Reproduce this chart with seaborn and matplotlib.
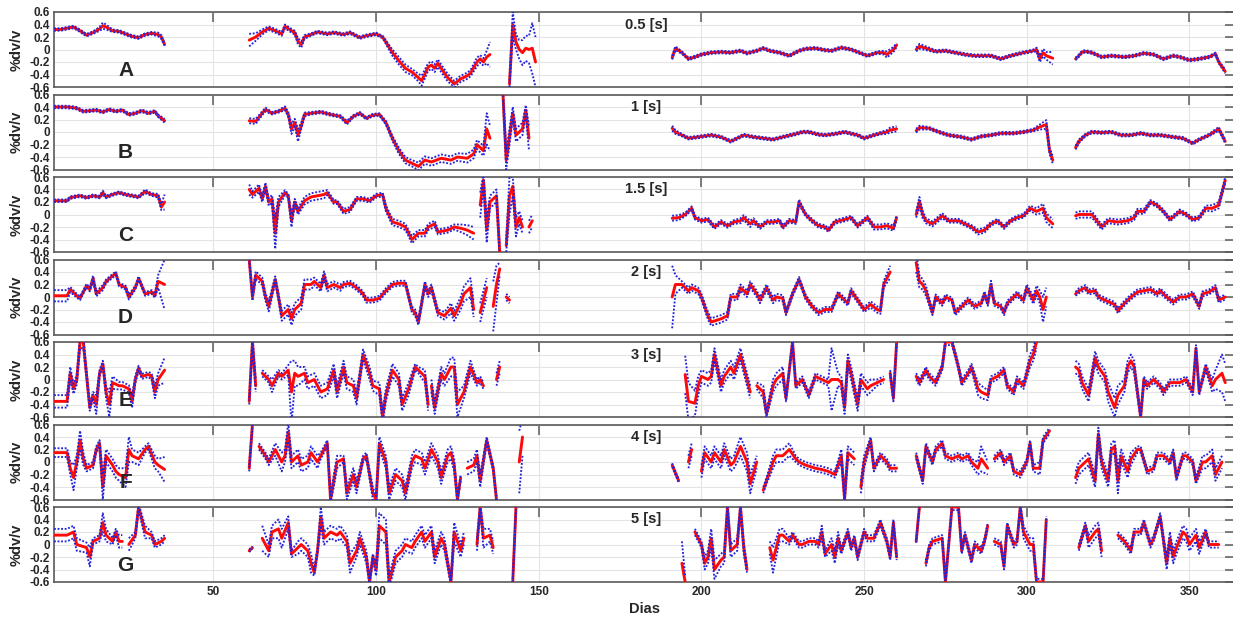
import numpy as np
import pandas as pd
import matplotlib
matplotlib.use("Agg")
import matplotlib.pyplot as plt
import seaborn as sns

# Daily %dv/v series per period band: each panel is a list of continuous
# segments, each row is (day, mean dv/v, half-width of the uncertainty band).
DV_05 = [
    [(1,.32,.02),(3,.32,.02),(5,.34,.02),(7,.36,.02),(9,.30,.02),(11,.23,.02),(13,.27,.02),(15,.33,.03),(16,.38,.05),(17,.36,.04),(19,.30,.02),(21,.29,.02),(23,.25,.02),(25,.21,.02),(27,.19,.02),(29,.24,.02),(31,.26,.02),(33,.24,.03),(34,.20,.03),(35,.08,.02)],
    [(61,.15,.1),(63,.20,.06),(65,.28,.04),(67,.34,.03),(69,.30,.03),(71,.25,.03),(72,.37,.03),(74,.30,.03),(75,.27,.03),(76,.13,.05),(77,.08,.05),(78,.20,.03),(80,.24,.02),(82,.28,.02),(85,.25,.02),(87,.27,.02),(90,.24,.02),(92,.27,.02),(95,.19,.02),(97,.22,.02),(100,.25,.02),(102,.20,.02),(103,.12,.03),(105,-.05,.05),(107,-.18,.06),(109,-.3,.06),(111,-.36,.05),(113,-.45,.06),(114,-.5,.08),(116,-.28,.06),(117,-.25,.06),(118,-.3,.06),(119,-.22,.06),(120,-.3,.06),(122,-.45,.06),(124,-.55,.05),(126,-.47,.05),(128,-.42,.05),(129,-.38,.05),(131,-.2,.07),(132,-.15,.06),(133,-.2,.06),(134,-.12,.1),(135,-.08,.2)],
    [(141,-.55,.05),(142,.4,.2),(143,.12,.12),(144,0,.15),(145,-.05,.2),(146,.02,.2),(147,0,.22),(148,.02,.4),(149,-.2,.4)],
    [(191,-.13,.03),(192,.02,.03),(194,-.05,.02),(196,-.15,.02),(198,-.12,.02),(200,-.08,.02),(203,-.05,.02),(206,-.04,.02),(209,-.05,.02),(212,-.02,.02),(214,-.06,.02),(217,-.02,.02),(219,.02,.02),(221,-.02,.02),(224,-.05,.02),(227,-.1,.02),(230,-.02,.02),(232,.01,.02),(235,.02,.02),(238,-.01,.02),(240,-.02,.02),(243,.03,.02),(246,0,.02),(249,-.06,.02),(251,-.1,.02),(254,-.05,.02),(256,-.05,.03),(257,-.08,.05),(259,0,.04),(260,.07,.03)],
    [(266,0,.03),(267,.05,.04),(269,.02,.03),(272,-.03,.02),(275,-.02,.02),(278,-.05,.02),(281,-.08,.02),(284,-.1,.02),(287,-.1,.02),(289,-.1,.02),(292,-.15,.02),(295,-.1,.02),(299,-.05,.02),(302,-.02,.02),(303,0,.03),(304,-.15,.05),(305,-.05,.06),(306,-.1,.06),(307,-.12,.08),(308,-.14,.1)],
    [(315,-.15,.02),(316,-.1,.02),(317,-.04,.02),(318,-.03,.02),(320,-.05,.02),(323,-.12,.02),(326,-.1,.02),(330,-.12,.02),(333,-.1,.02),(336,-.06,.02),(339,-.08,.02),(342,-.15,.02),(345,-.1,.02),(347,-.12,.02),(350,-.17,.02),(353,-.15,.02),(356,-.12,.02),(358,-.07,.02),(359,-.2,.02),(361,-.35,.03)],
]

DV_1 = [
    [(1,.40,.02),(3,.40,.02),(5,.40,.02),(7,.39,.02),(8,.38,.02),(10,.33,.02),(12,.34,.02),(14,.35,.02),(16,.32,.02),(18,.36,.02),(20,.33,.02),(22,.35,.02),(24,.28,.02),(26,.30,.02),(28,.34,.02),(30,.30,.02),(32,.33,.02),(33,.26,.02),(35,.18,.03)],
    [(61,.18,.04),(63,.17,.04),(65,.30,.03),(66,.36,.03),(68,.30,.02),(70,.33,.02),(72,.38,.03),(73,.28,.04),(74,.05,.08),(75,.15,.06),(76,-.05,.1),(77,.1,.05),(78,.28,.03),(80,.30,.02),(83,.32,.02),(86,.28,.02),(89,.25,.02),(91,.15,.03),(93,.25,.02),(95,.30,.02),(97,.22,.02),(99,.27,.02),(101,.28,.02),(103,.15,.03),(105,-.1,.04),(107,-.3,.05),(109,-.45,.05),(111,-.5,.05),(113,-.55,.06),(115,-.45,.06),(117,-.48,.06),(120,-.42,.06),(123,-.45,.06),(125,-.4,.06),(128,-.42,.07),(130,-.35,.07),(131,-.2,.07),(133,-.3,.08),(134,.05,.25),(135,-.1,.2)],
    [(139,.6,.1),(140,-.45,.15),(142,.3,.1),(143,-.05,.1),(145,.05,.1),(146,.35,.08),(147,-.1,.2)],
    [(191,.06,.04),(192,0,.03),(194,-.05,.02),(196,-.1,.02),(199,-.08,.02),(203,-.05,.02),(206,-.08,.02),(209,-.15,.02),(211,-.1,.02),(213,-.05,.02),(216,-.08,.02),(219,-.1,.02),(222,-.12,.02),(225,-.08,.02),(229,-.03,.02),(231,0,.02),(233,0,.02),(236,-.04,.02),(238,-.05,.02),(241,-.03,.02),(244,0,.02),(248,-.05,.02),(250,-.1,.02),(253,-.05,.02),(255,-.02,.02),(257,0,.03),(258,.03,.04),(260,.05,.04)],
    [(266,.02,.03),(267,.07,.03),(270,.06,.02),(273,0,.02),(276,-.05,.02),(280,-.08,.02),(283,-.12,.02),(286,-.07,.02),(289,-.05,.02),(292,-.02,.02),(296,-.02,.02),(299,0,.02),(302,.03,.02),(304,.08,.04),(306,.12,.07),(307,-.3,.05),(308,-.45,.06)],
    [(315,-.25,.03),(316,-.15,.03),(318,-.05,.02),(320,0,.02),(323,-.01,.02),(326,0,.02),(329,-.05,.02),(332,-.05,.02),(335,-.02,.02),(338,-.05,.02),(341,-.05,.02),(345,-.08,.02),(348,-.1,.02),(351,-.18,.02),(353,-.12,.02),(356,-.05,.02),(359,.05,.03),(361,-.15,.03)],
]

DV_15 = [
    [(1,.22,.02),(3,.22,.02),(5,.22,.02),(6,.27,.02),(9,.30,.02),(11,.27,.02),(13,.30,.02),(15,.28,.02),(16,.35,.03),(17,.28,.02),(19,.32,.02),(21,.35,.02),(23,.32,.02),(25,.30,.02),(27,.28,.02),(29,.37,.03),(31,.32,.02),(33,.30,.03),(34,.12,.05),(35,.2,.12)],
    [(61,.4,.08),(62,.32,.05),(64,.42,.06),(65,.25,.05),(66,.45,.06),(67,.2,.06),(68,.25,.06),(69,-.3,.25),(70,.2,.08),(72,.35,.04),(73,.3,.03),(74,-.1,.1),(75,.2,.05),(76,.05,.05),(78,.22,.06),(80,.28,.06),(82,.3,.06),(84,.32,.06),(85,.35,.04),(87,.2,.03),(88,.2,.03),(90,.05,.04),(92,.08,.04),(94,.25,.03),(96,.25,.03),(98,.22,.03),(100,.3,.03),(102,.32,.03),(103,.1,.05),(105,-.12,.05),(107,-.15,.05),(109,-.2,.05),(110,-.3,.05),(111,-.4,.06),(113,-.3,.05),(115,-.3,.05),(116,-.2,.05),(118,-.15,.05),(119,-.28,.04),(122,-.25,.04),(124,-.2,.04),(126,-.22,.06),(128,-.25,.08),(130,-.3,.1)],
    [(132,.15,.2),(133,.55,.1),(134,-.25,.2),(135,.2,.1),(137,.3,.1),(138,-.6,.1)],
    [(140,-.5,.1),(141,.3,.3),(142,.45,.15),(143,-.2,.15),(144,-.05,.1),(145,-.2,.1)],
    [(147,-.2,.1),(148,-.1,.1)],
    [(191,-.06,.04),(193,-.05,.04),(195,0,.03),(197,.1,.03),(198,-.05,.03),(200,-.1,.03),(202,-.08,.03),(204,-.2,.03),(206,-.12,.03),(208,-.18,.03),(210,-.12,.03),(212,-.1,.04),(213,-.05,.04),(215,-.15,.05),(216,-.1,.04),(218,-.2,.03),(220,-.12,.03),(222,-.12,.03),(224,-.1,.03),(225,-.2,.03),(227,-.1,.03),(229,-.12,.03),(230,.2,.04),(232,0,.03),(234,-.1,.03),(236,-.18,.03),(238,-.2,.03),(239,-.25,.03),(241,-.12,.03),(244,-.08,.03),(246,-.05,.03),(248,-.18,.03),(251,-.05,.03),(253,-.2,.04),(255,-.2,.04),(257,-.18,.04),(259,-.22,.04),(260,-.05,.04)],
    [(266,0,.05),(267,.2,.08),(268,0,.06),(269,-.1,.04),(271,-.15,.04),(274,-.02,.04),(276,-.1,.03),(279,-.1,.03),(281,-.15,.03),(283,-.2,.03),(285,-.28,.04),(287,-.25,.04),(289,-.15,.03),(291,-.1,.03),(293,-.2,.03),(295,-.1,.03),(297,-.05,.03),(299,-.02,.03),(301,.1,.04),(303,.05,.05),(305,.1,.07),(306,-.05,.07),(308,-.15,.07)],
    [(315,-.02,.05),(316,0,.05),(318,0,.05),(320,0,.05),(323,-.2,.04),(325,-.1,.04),(328,-.12,.04),(331,-.1,.04),(333,-.05,.04),(334,.05,.04),(336,.05,.04),(338,.2,.03),(340,.15,.03),(342,.05,.03),(344,-.08,.03),(347,.05,.03),(349,0,.03),(351,-.08,.03),(353,-.05,.03),(355,.1,.04),(357,.1,.05),(359,.15,.05),(361,.55,.05)],
]

DV_2 = [
    [(1,.02,.09),(3,.02,.09),(5,.02,.09),(6,.12,.04),(8,.02,.03),(9,-.02,.03),(11,.18,.03),(12,.12,.03),(13,.3,.04),(14,.05,.04),(16,.15,.04),(17,.25,.03),(20,.38,.03),(21,.2,.03),(23,.15,.03),(24,0,.04),(26,.15,.03),(27,.3,.03),(29,.05,.03),(31,.08,.03),(32,.02,.03),(33,.25,.1),(35,.2,.4)],
    [(61,.6,.05),(62,0,.06),(63,.35,.06),(65,.25,.06),(66,0,.06),(67,-.15,.08),(69,.28,.05),(70,0,.06),(71,-.3,.08),(73,-.2,.08),(74,-.35,.1),(75,-.2,.1),(77,-.1,.1),(78,.2,.08),(80,.2,.08),(81,.25,.06),(83,.15,.06),(84,.35,.06),(85,.15,.06),(87,.2,.05),(89,.15,.05),(90,.2,.04),(92,.22,.04),(94,.15,.04),(96,.05,.04),(97,-.05,.04),(99,-.05,.04),(101,-.02,.04),(103,.1,.04),(105,.2,.04),(107,.22,.04),(109,.22,.04),(111,-.2,.05),(112,-.25,.05),(113,-.4,.05),(115,.2,.05),(116,.05,.05),(117,.15,.05),(119,-.25,.05),(121,-.3,.06),(123,-.18,.08),(124,-.3,.08),(126,-.1,.1),(127,.05,.12),(129,.15,.15),(130,-.2,.12)],
    [(132,-.25,.15),(134,.15,.15)],
    [(136,-.15,.4),(137,.2,.3),(138,.45,.1)],
    [(140,0,.05),(141,-.05,.05)],
    [(191,0,.5),(192,.2,.15),(194,.2,.05),(196,.1,.05),(197,.15,.05),(199,.1,.05),(200,0,.05),(202,-.3,.06),(203,-.4,.06),(206,-.35,.06),(208,-.3,.06),(209,0,.05),(211,0,.05),(212,.15,.05),(214,.05,.05),(215,.2,.05),(217,.05,.05),(218,-.05,.05),(220,.15,.05),(222,-.05,.05),(223,0,.05),(225,-.02,.05),(226,-.25,.04),(228,.05,.04),(230,.28,.04),(232,0,.04),(234,-.15,.04),(236,-.25,.04),(238,-.2,.04),(240,-.2,.04),(242,.05,.04),(243,0,.04),(245,-.1,.04),(246,.1,.04),(248,-.05,.04),(250,-.2,.04),(252,-.12,.05),(254,-.2,.05),(255,-.22,.05),(256,.2,.05),(258,.4,.1)],
    [(266,.55,.15),(267,.25,.1),(268,.2,.08),(269,.1,.08),(271,-.25,.04),(272,0,.04),(274,-.1,.04),(275,0,.04),(277,-.05,.04),(278,-.25,.04),(280,-.15,.04),(282,-.05,.04),(284,-.15,.04),(286,-.1,.04),(287,.05,.04),(288,-.1,.04),(289,.2,.06),(290,-.1,.04),(292,-.15,.04),(293,-.25,.04),(294,-.1,.04),(296,0,.04),(297,.05,.04),(299,-.05,.04),(300,.15,.05),(302,-.05,.06),(303,.1,.08),(304,0,.1),(305,-.2,.2),(306,0,.15)],
    [(315,.05,.03),(316,.1,.04),(318,.15,.04),(319,.08,.04),(321,.1,.04),(322,0,.04),(324,-.05,.04),(327,-.12,.04),(328,-.22,.04),(330,-.1,.04),(332,0,.04),(334,.08,.04),(336,.1,.04),(338,.12,.04),(340,.05,.04),(341,.1,.04),(343,0,.04),(345,-.08,.04),(347,0,.04),(349,0,.04),(351,.05,.04),(353,-.15,.04),(354,.05,.04),(356,.08,.04),(358,.15,.04),(359,-.05,.04),(361,0,.04)],
]

DV_3 = [
    [(1,-.35,.1),(3,-.35,.1),(5,-.35,.1),(6,.1,.1),(7,-.15,.08),(8,0,.08),(9,.6,.1),(10,.6,.1),(12,-.45,.05),(13,-.25,.05),(14,-.4,.15),(15,.1,.05),(16,.25,.05),(17,-.2,.1),(18,-.4,.2),(19,-.05,.1),(21,-.1,.06),(22,-.1,.06),(24,-.15,.06),(25,-.35,.1),(26,0,.06),(27,.18,.04),(28,.05,.04),(30,.08,.04),(31,.05,.05),(32,-.2,.1),(33,0,.1),(35,.15,.2)],
    [(61,-.35,.05),(62,.6,.1),(63,-.1,.1)],
    [(65,.1,.05),(67,0,.05),(68,-.1,.1),(70,.1,.05),(71,.05,.05),(73,.15,.08),(74,-.2,.5),(75,.1,.2),(76,.05,.15),(78,.1,.1),(79,-.05,.1),(81,0,.1),(83,-.2,.1),(85,-.15,.1),(87,.15,.1),(88,-.2,.1),(90,.2,.1),(91,-.05,.1),(93,-.1,.1),(94,-.3,.1),(96,.4,.08),(98,.1,.1),(99,-.1,.08),(101,-.15,.1),(102,-.6,.1),(103,-.25,.1),(105,.15,.1),(107,0,.1),(108,-.4,.1),(110,-.15,.1),(112,.2,.05),(113,.15,.05),(115,.05,.1),(116,-.4,.1)],
    [(117,-.1,.1),(118,-.45,.1),(120,.1,.1),(121,0,.1),(123,.2,.15),(124,.2,.15),(125,-.4,.2),(127,-.2,.1),(128,0,.1),(129,.2,.1),(131,-.05,.05),(132,0,.05),(133,-.1,.05)],
    [(137,0,.1),(138,.2,.1)],
    [(195,.08,.3),(196,-.35,.3),(198,-.38,.2),(199,-.1,.15),(200,.05,.1),(202,0,.1),(203,.05,.1),(204,.4,.1),(206,-.1,.1),(207,.05,.1),(209,.2,.1),(210,.1,.1),(212,.4,.1),(214,0,.1),(215,-.2,.1)],
    [(217,-.1,.05),(219,-.2,.1),(220,-.55,.05),(222,-.1,.1),(223,0,.1),(225,.1,.1),(226,-.3,.05),(228,.6,.05),(229,-.1,.05),(231,0,.05),(233,-.25,.05),(235,.05,.05),(237,0,.05),(239,-.05,.05),(240,0,.5),(242,0,.1),(243,-.05,.1),(244,-.45,.1),(245,.3,.1),(246,.1,.1),(248,-.4,.1),(249,0,.1),(251,-.15,.1),(252,-.1,.1),(254,-.05,.05),(256,0,.05)],
    [(258,.1,.05),(259,-.3,.05),(260,.6,.05)],
    [(266,.05,.05),(267,-.05,.05),(269,.15,.05),(270,.05,.05),(272,-.05,.05),(274,.2,.05),(275,.6,.05),(277,.6,.05),(279,.2,.05),(280,-.05,.05),(282,.1,.05),(283,.2,.05),(285,-.15,.1),(286,-.2,.1),(288,-.25,.08),(289,0,.05),(291,.05,.05),(293,.15,.05),(294,-.1,.05),(296,-.2,.05),(297,0,.05),(299,-.1,.05),(301,.3,.1),(302,.4,.1),(303,.6,.1)],
    [(315,.2,.1),(316,.15,.1),(317,-.05,.1),(319,-.25,.1),(321,.35,.1),(322,.2,.1),(324,.05,.1),(325,-.2,.15),(327,-.45,.15),(328,-.25,.15),(330,-.1,.1),(331,.2,.1),(332,.3,.1),(333,.2,.1),(335,-.6,.05),(336,0,.05),(337,-.1,.05),(339,0,.05),(341,-.1,.05),(342,-.2,.05),(344,-.05,.05),(345,-.05,.05),(347,-.05,.05),(349,0,.05),(351,-.2,.05),(352,.5,.05),(353,-.2,.05),(355,.2,.05),(357,-.1,.1),(358,0,.15),(360,.1,.3),(361,-.05,.3)],
]

DV_4 = [
    [(1,.15,.07),(3,.15,.07),(5,.15,.07),(6,-.1,.1),(7,-.25,.2),(8,0,.1),(9,.35,.15),(10,.05,.1),(11,-.1,.05),(13,-.05,.05),(14,.2,.05),(15,.3,.05),(16,-.4,.2),(17,.1,.1),(19,-.05,.1),(20,-.15,.1),(21,-.2,.1),(23,-.25,.15),(24,.2,.2),(25,.1,.1),(27,.05,.1),(29,.2,.05),(30,.25,.05),(32,0,.1),(33,-.05,.1),(35,-.12,.2)],
    [(61,-.1,.05),(62,.6,.05)],
    [(64,.25,.05),(66,.1,.05),(67,0,.05),(69,.2,.1),(71,0,.15),(72,.1,.1),(73,.48,.15),(74,0,.1),(76,.1,.1),(77,-.05,.1),(79,0,.1),(80,.15,.1),(82,0,.1),(83,.1,.05),(85,.3,.05),(86,-.6,.05),(87,-.3,.1),(88,0,.1),(90,.05,.05),(91,-.5,.1),(93,-.2,.1),(94,-.4,.1),(96,.05,.05),(97,.1,.05),(99,-.5,.1),(100,-.6,.05),(101,.3,.1),(103,0,.1),(104,-.5,.1),(106,-.2,.1),(108,-.3,.1),(109,-.5,.1),(111,0,.1),(112,.1,.1),(114,.05,.1),(115,-.1,.1),(117,.2,.1),(119,0,.1),(120,-.25,.1),(122,.1,.1),(123,.15,.1),(124,-.05,.1),(125,-.6,.05),(126,-.25,.05)],
    [(128,-.1,.1),(130,-.05,.1),(131,.1,.1),(132,-.3,.1),(134,.35,.05),(136,-.1,.05),(137,-.6,.05)],
    [(144,0,.5),(145,.4,.3)],
    [(191,-.05,.03),(193,-.3,.03)],
    [(196,0,.1),(197,.2,.1)],
    [(200,-.15,.1),(201,.15,.1),(203,0,.1),(204,.15,.1),(206,0,.1),(207,.2,.1),(209,-.05,.1),(210,0,.1),(212,.25,.15),(214,0,.15),(215,-.35,.15),(217,0,.1)],
    [(219,-.45,.05),(220,-.3,.05),(222,0,.1),(223,.1,.1),(225,.1,.1),(227,.2,.1),(229,.05,.05),(230,0,.05),(232,-.05,.05),(235,-.1,.05),(237,-.12,.05),(239,-.15,.05),(241,-.2,.05),(243,.1,.1),(244,-.6,.05),(245,.15,.1),(247,.05,.1)],
    [(249,-.4,.1),(250,0,.1),(252,.35,.05),(253,-.1,.05),(255,.1,.05),(257,0,.05),(258,-.1,.05),(260,-.1,.05)],
    [(266,.1,.05),(268,-.3,.05),(269,.25,.05),(271,0,.05),(272,.2,.05),(274,.3,.05),(275,.1,.05),(277,.05,.05),(279,.1,.05),(280,.05,.05),(282,.1,.05),(283,0,.05),(285,-.1,.1),(286,.05,.2),(288,-.1,.1)],
    [(290,.05,.05),(292,.15,.05),(293,0,.05),(295,.1,.05),(296,-.15,.05),(298,-.2,.05),(300,0,.05),(301,.3,.05),(302,-.1,.05),(304,-.1,.1),(305,.35,.05),(307,.5,.05)],
    [(315,-.25,.1),(316,-.1,.1),(317,-.05,.1),(319,.05,.1),(321,-.3,.1),(322,.45,.1),(323,0,.1),(325,-.3,.1),(326,.2,.1),(327,.25,.1),(328,-.3,.2),(329,.1,.1),(331,-.15,.1),(332,.05,.1),(334,.2,.05),(335,.2,.05),(337,-.15,.05),(339,-.1,.05),(340,.1,.05),(342,.1,.05),(344,0,.05),(345,.15,.05),(346,-.25,.05),(348,.1,.05),(349,.1,.05),(351,0,.05),(352,-.3,.05),(354,0,.1),(355,0,.1),(357,.1,.1),(358,-.2,.1),(360,0,.1)],
]

DV_5 = [
    [(1,.15,.1),(3,.15,.1),(5,.15,.1),(7,.2,.1),(8,0,.1),(11,-.05,.08),(12,-.2,.15),(13,.05,.05),(15,.1,.05),(16,.35,.15),(17,.15,.1),(19,.05,.05),(20,.2,.05),(21,.05,.1),(22,.05,.1)],
    [(24,0,.1),(26,.15,.05),(27,.6,.05),(29,.2,.1),(31,.15,.05),(32,0,.05),(34,.05,.05),(35,.1,.05)],
    [(61,-.1,.02),(62,-.05,.02)],
    [(65,.1,.2),(67,-.1,.1),(68,.2,.1),(70,.25,.15),(71,.1,.15),(73,.35,.1),(74,-.15,.05),(76,-.05,.1),(77,0,.1),(79,-.1,.1),(80,-.3,.15),(81,-.45,.05),(82,-.1,.05),(83,.45,.15),(84,.1,.1),(86,.2,.1),(88,.15,.1),(89,.2,.1),(91,.05,.1),(92,-.3,.15),(94,-.1,.1),(95,.1,.1),(97,-.2,.1),(98,-.6,.05),(99,-.2,.05),(100,-.4,.1),(101,.3,.2),(103,.2,.2),(104,-.6,.1),(106,-.2,.1),(108,-.1,.1),(109,0,.1),(111,-.05,.1),(112,.05,.1),(114,.2,.1),(115,.05,.1),(117,.2,.1),(118,-.2,.1),(120,.1,.1),(121,0,.1),(123,-.6,.05),(124,.2,.15),(126,-.1,.1),(127,.1,.1)],
    [(131,0,.1),(132,.6,.05),(133,.1,.15),(135,.15,.1),(136,-.05,.1)],
    [(142,-.6,.05),(143,.6,.05)],
    [(194,-.3,.35),(195,-.6,.1)],
    [(198,.2,.05),(200,0,.05),(201,-.3,.1),(202,-.2,.1),(203,.1,.15),(204,-.4,.15),(206,-.25,.1),(207,-.2,.1),(208,.6,.05),(209,-.1,.1),(211,0,.1),(212,.6,.05),(213,-.05,.1),(214,-.4,.05)],
    [(221,-.05,.1),(222,-.25,.2),(224,.15,.1),(225,.15,.1),(227,.05,.05),(228,.15,.05),(230,0,.05),(231,0,.05),(233,.05,.05),(235,.05,.05),(236,0,.05),(237,.2,.1),(238,-.15,.05),(240,0,.1),(241,-.2,.1),(242,.1,.1),(243,-.1,.05),(245,.2,.05),(246,-.05,.05),(247,.1,.05),(248,-.2,.05),(249,0,.05),(250,.2,.05),(251,.1,.05),(253,.1,.05),(255,.35,.05),(257,.05,.05),(258,-.2,.05),(259,.35,.05),(260,-.2,.05)],
    [(266,.05,.02),(267,.6,.02)],
    [(269,-.3,.05),(270,-.05,.05),(271,.05,.05),(274,.1,.05),(275,-.6,.05),(277,.6,.05),(279,.6,.05),(280,-.1,.05),(281,.15,.05),(283,-.25,.05),(284,0,.05),(286,-.1,.05),(287,.05,.05),(288,.3,.05)],
    [(290,.05,.05),(292,0,.05),(293,-.35,.05),(294,.3,.05),(296,0,.05),(297,.05,.05),(298,.6,.05),(299,.2,.1),(301,0,.1),(302,0,.1),(303,-.6,.05),(304,-.6,.05),(305,-.6,.05),(306,.4,.05)],
    [(316,-.05,.05),(318,.3,.05),(319,.05,.1),(321,.2,.1),(322,.25,.1),(323,-.1,.1)],
    [(328,.15,.05),(330,.05,.05),(332,-.1,.05),(333,.2,.05),(335,.2,.05),(336,.35,.05),(338,0,.05),(339,.1,.05),(341,.45,.05),(343,-.3,.1),(344,.1,.1),(345,-.2,.1),(346,-.05,.1),(348,.2,.1),(349,.15,.1),(350,0,.1),(352,.15,.1),(353,-.05,.1),(355,.2,.05),(356,0,.05),(358,0,.05),(359,0,.05)],
]

PANELS = [DV_05, DV_1, DV_15, DV_2, DV_3, DV_4, DV_5]
LETTERS = ["A", "B", "C", "D", "E", "F", "G"]
PERIODS = ["0.5 [s]", "1 [s]", "1.5 [s]", "2 [s]", "3 [s]", "4 [s]", "5 [s]"]
Y_TICKS = [-0.6, -0.4, -0.2, 0.0, 0.2, 0.4, 0.6]
Y_TICK_LABELS = ["-0.6", "-0.4", "-0.2", "0", "0.2", "0.4", "0.6"]
X_TICKS = [50, 100, 150, 200, 250, 300, 350]

RED = "#ff0a0a"
BLUE = "#2424d8"
FRAME = "#5a5a5a"


def to_frames(segments):
    rows = []
    for k, seg in enumerate(segments):
        for day, mean, err in seg:
            rows.append({"day": day, "dvv": mean, "err": err, "seg": k})
    mean_df = pd.DataFrame(rows)
    upper = mean_df.assign(val=mean_df.dvv + mean_df.err, unit=mean_df.seg * 2)
    lower = mean_df.assign(val=mean_df.dvv - mean_df.err, unit=mean_df.seg * 2 + 1)
    band_df = pd.concat([upper, lower], ignore_index=True)
    return mean_df, band_df


sns.set_style("white")
plt.rcParams["font.family"] = ["Liberation Sans", "DejaVu Sans"]
plt.rcParams["font.weight"] = "bold"
plt.rcParams["axes.labelweight"] = "bold"

W, H = 1233, 617
fig = plt.figure(figsize=(W / 100, H / 100), dpi=100)

left_px, right_px = 54, 1235
panel_h, step, top0 = 75, 82.5, 12

for i, segments in enumerate(PANELS):
    top = top0 + step * i
    ax = fig.add_axes([left_px / W, 1 - (top + panel_h) / H,
                       (right_px - left_px) / W, panel_h / H])
    mean_df, band_df = to_frames(segments)

    # mean curve underneath, uncertainty bounds as dotted lines on top
    sns.lineplot(data=mean_df, x="day", y="dvv", units="seg", estimator=None,
                 color=RED, lw=2.1, ax=ax, zorder=3)
    sns.lineplot(data=band_df, x="day", y="val", units="unit", estimator=None,
                 color=BLUE, lw=1.35, linestyle=(0, (1, 0.9)), ax=ax, zorder=4)

    ax.set_xlim(1, 364)
    ax.set_ylim(-0.6, 0.6)
    ax.set_yticks(Y_TICKS)
    ax.set_yticklabels(Y_TICK_LABELS)
    ax.set_xticks(X_TICKS)
    ax.grid(True, color="#e4e4e4", lw=0.8, zorder=0)
    ax.set_axisbelow(True)
    ax.tick_params(direction="in", length=7, width=1.1, color=FRAME,
                   top=True, right=True, labelsize=8.5, pad=3)
    for sp in ax.spines.values():
        sp.set_color(FRAME)
        sp.set_linewidth(1.2)

    ax.set_ylabel("%dv/v", fontsize=10.5, fontweight="bold")
    ax.yaxis.set_label_coords(-0.026, 0.5)

    if i < len(PANELS) - 1:
        ax.set_xticklabels([])
        ax.set_xlabel("")
    else:
        ax.set_xlabel("Dias", fontsize=10.5, fontweight="bold", labelpad=3)

    ax.text(23, -0.33, LETTERS[i], fontsize=15, fontweight="bold",
            ha="center", va="center", zorder=6)
    ax.text(183, 0.40, PERIODS[i], fontsize=10.5, fontweight="bold",
            ha="center", va="center", zorder=6)

fig.savefig("out.png", dpi=100)
